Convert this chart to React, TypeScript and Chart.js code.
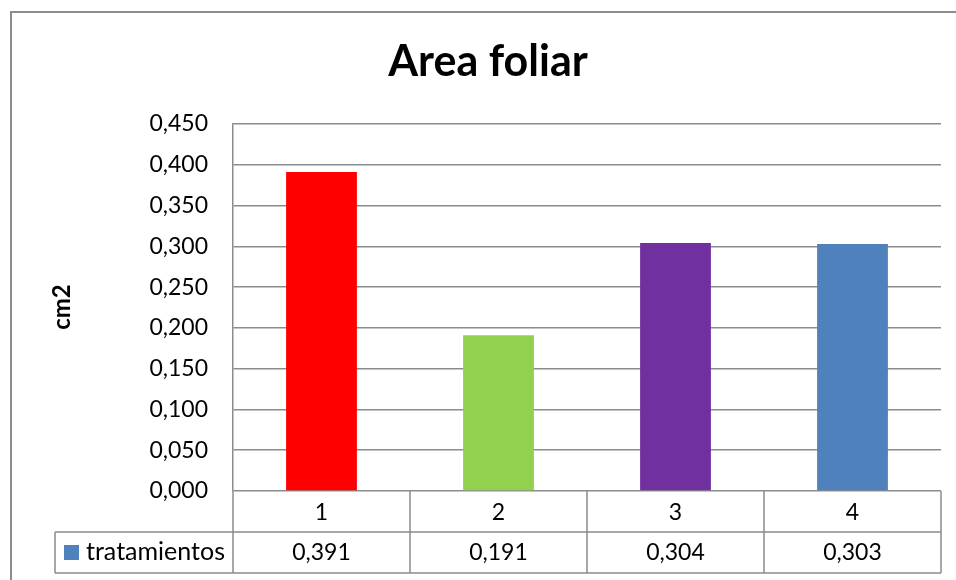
import React, { useEffect, useRef } from 'react';
import { Chart, registerables } from 'chart.js';

Chart.register(...registerables);

const categories = ['1', '2', '3', '4'];
const values = [0.391, 0.191, 0.304, 0.303];
const seriesName = 'tratamientos';
const chartTitle = 'Area foliar';
const yTitle = 'cm2';
const yMin = 0;
const yMax = 0.45;
const yStep = 0.05;

const barColors = ['#FF0000', '#92D050', '#7030A0', '#4F81BD'];
const legendColor = '#4F81BD';
const gridColor = '#8c8c8c';
const FONT = 'Lato, "Open Sans", sans-serif';

const fmt = (v: number) => v.toFixed(3).replace('.', ',');

const decorPlugin = {
  id: 'decor',
  afterDraw(chart: any) {
    const ctx: CanvasRenderingContext2D = chart.ctx;
    const area = chart.chartArea;
    const n = categories.length;
    const catW = (area.right - area.left) / n;
    const rowH = 41;
    const t0 = area.bottom;
    const t1 = t0 + rowH;
    const t2 = t1 + rowH;
    const legendLeft = 55;
    ctx.save();
    // outer frame
    ctx.strokeStyle = '#8c8c8c';
    ctx.lineWidth = 2;
    ctx.beginPath();
    ctx.moveTo(11, 600);
    ctx.lineTo(11, 12);
    ctx.lineTo(970, 12);
    ctx.stroke();

    // title
    ctx.fillStyle = '#000';
    ctx.font = `bold 43px ${FONT}`;
    ctx.textAlign = 'center';
    ctx.textBaseline = 'alphabetic';
    ctx.fillText(chartTitle, 488, 76);

    // y title
    ctx.save();
    ctx.translate(70, 307);
    ctx.rotate(-Math.PI / 2);
    ctx.font = `bold 24px ${FONT}`;
    ctx.textAlign = 'center';
    ctx.fillText(yTitle, 0, 0);
    ctx.restore();

    // table lines
    ctx.strokeStyle = gridColor;
    ctx.lineWidth = 1.5;
    ctx.beginPath();
    ctx.moveTo(area.left, t1);
    ctx.lineTo(area.right, t1);
    ctx.moveTo(legendLeft, t1);
    ctx.lineTo(area.left, t1);
    ctx.moveTo(legendLeft, t2);
    ctx.lineTo(area.right, t2);
    ctx.moveTo(legendLeft, t1);
    ctx.lineTo(legendLeft, t2);
    for (let i = 0; i <= n; i++) {
      const x = area.left + i * catW;
      ctx.moveTo(x, t0);
      ctx.lineTo(x, t2);
    }
    ctx.stroke();

    // texts
    ctx.fillStyle = '#000';
    ctx.font = `23px ${FONT}`;
    ctx.textAlign = 'center';
    for (let i = 0; i < n; i++) {
      const cx = area.left + (i + 0.5) * catW;
      ctx.fillText(categories[i], cx, t0 + 29);
      ctx.fillText(fmt(values[i]), cx, t1 + 28);
    }
    ctx.fillStyle = legendColor;
    ctx.fillRect(64, t1 + 13, 15, 15);
    ctx.fillStyle = '#000';
    ctx.textAlign = 'left';
    ctx.font = `25px ${FONT}`;
    ctx.fillText(seriesName, 86, t1 + 28);
    ctx.restore();
  },
};

export default function App() {
  const ref = useRef<HTMLCanvasElement>(null);
  useEffect(() => {
    if (!ref.current) return;
    const chart = new Chart(ref.current, {
      type: 'bar',
      data: {
        labels: categories,
        datasets: [
          {
            label: seriesName,
            data: values,
            backgroundColor: barColors,
            borderWidth: 0,
            barPercentage: 0.4,
            categoryPercentage: 1,
          },
        ],
      },
      options: {
        animation: false,
        responsive: false,
        devicePixelRatio: 1,
        layout: { padding: { top: 124, right: 15, bottom: 0, left: 0 } },
        plugins: {
          legend: { display: false },
          title: { display: false },
          tooltip: { enabled: false },
        },
        scales: {
          x: {
            ticks: { display: false },
            grid: { display: false },
            border: { display: false },
            afterFit: (s: any) => {
              s.height = 89;
            },
          },
          y: {
            min: yMin,
            max: yMax,
            ticks: {
              stepSize: yStep,
              padding: 25,
              color: '#000',
              font: { family: FONT, size: 23 },
              callback: (v: any) => fmt(Number(v)),
            },
            grid: { color: gridColor, lineWidth: 1.5, drawTicks: false },
            border: { display: true, color: gridColor, width: 1.5 },
            afterFit: (s: any) => {
              s.width = 233;
            },
          },
        },
      },
      plugins: [decorPlugin],
    });
    return () => chart.destroy();
  }, []);
  return (
    <div style={{ position: 'absolute', left: 0, top: 0, width: 956, height: 580, background: '#fff' }}>
      <canvas ref={ref} width={956} height={580} style={{ display: 'block' }} />
    </div>
  );
}
